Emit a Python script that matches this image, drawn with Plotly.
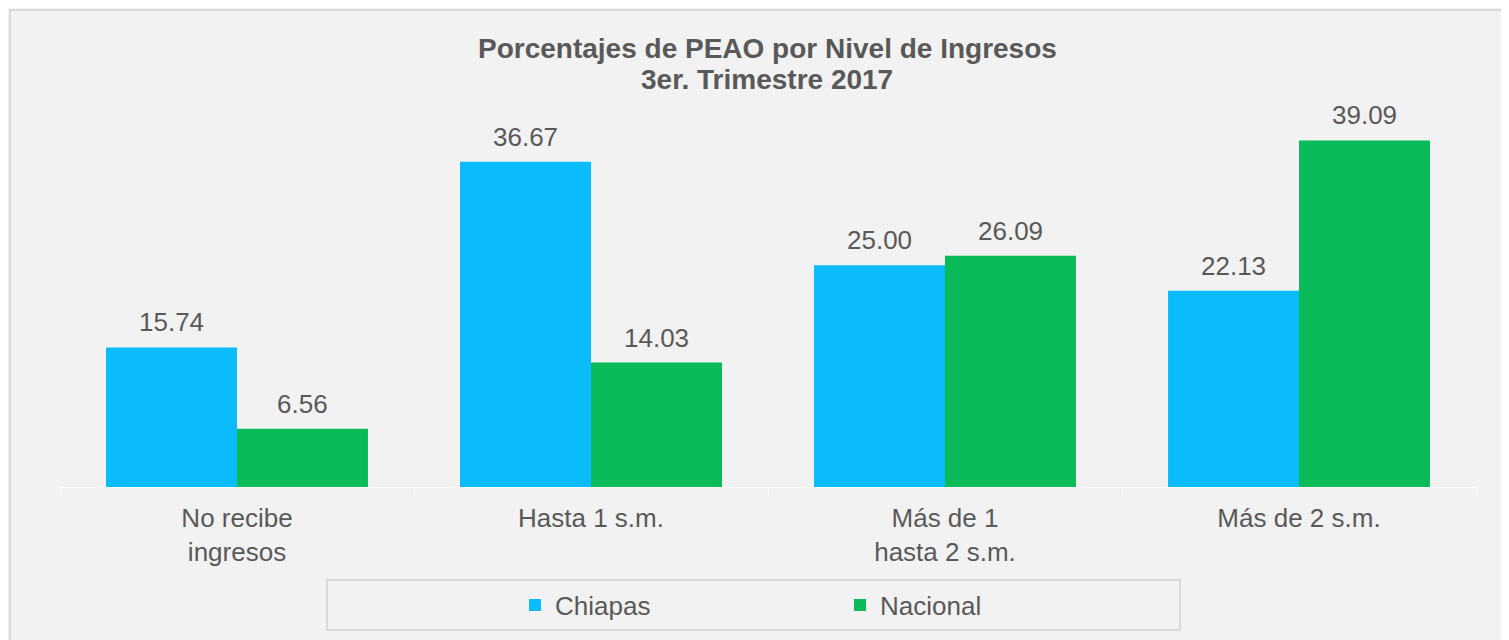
import plotly.graph_objects as go

categories = ["No recibe<br>ingresos", "Hasta 1 s.m.", "Más de 1<br>hasta 2 s.m.", "Más de 2 s.m."]
chiapas = [15.74, 36.67, 25.00, 22.13]
nacional = [6.56, 14.03, 26.09, 39.09]
series_names = ["Chiapas", "Nacional"]
title_lines = ["Porcentajes de PEAO por Nivel de Ingresos", "3er. Trimestre 2017"]

C_CHI = "#0bbcfc"
C_NAC = "#0bbb5a"
TXT = "#595959"
FONT = "Liberation Sans, Arial, sans-serif"
BARGAP = 0.26

# page body has an 8px margin -> work in page coordinates minus 8
SH = 8
PL, PR = 60 - SH, 1476 - SH      # plot left/right (figure px)
PT, PB = 88 - SH, 487 - SH       # plot top/bottom (figure px)
W, H = 1509, 640
PW, PH = PR - PL, PB - PT

def px(xp):
    return (xp - SH - PL) / PW

def py(yp):
    return (PB - (yp - SH)) / PH

fig = go.Figure()
fig.add_trace(go.Bar(x=categories, y=chiapas, name=series_names[0], marker=dict(color=C_CHI, line=dict(width=0))))
fig.add_trace(go.Bar(x=categories, y=nacional, name=series_names[1], marker=dict(color=C_NAC, line=dict(width=0))))

off = (1 - BARGAP) / 4
annotations = []
for i in range(len(categories)):
    for vals, sgn in ((chiapas, -1), (nacional, 1)):
        annotations.append(dict(
            x=i + sgn * off, y=vals[i], xref="x", yref="y",
            text=f"{vals[i]:.2f}", showarrow=False,
            yanchor="middle", yshift=25,
            font=dict(family=FONT, size=26, color=TXT)))

for line, yc in zip(title_lines, (48, 79)):
    annotations.append(dict(
        x=px(767), y=py(yc), xref="paper", yref="paper",
        xanchor="center", yanchor="middle", showarrow=False,
        text="<b>" + line + "</b>",
        font=dict(family=FONT, size=28, color=TXT)))

fig.update_layout(
    width=W, height=H,
    margin=dict(l=PL, r=W - PR, t=PT, b=H - PB),
    paper_bgcolor="#f2f2f2", plot_bgcolor="#f2f2f2",
    barmode="group", bargap=BARGAP, bargroupgap=0,
    font=dict(family=FONT, color=TXT),
    xaxis=dict(type="category", showgrid=False, showline=True, linecolor="#fafafa", linewidth=1,
               ticks="outside", tickson="boundaries", ticklen=7, tickcolor="#fafafa",
               tickfont=dict(family=FONT, size=26, color=TXT), ticklabelstandoff=8,
               fixedrange=True),
    yaxis=dict(range=[0, 45], visible=False, showgrid=False, zeroline=False, fixedrange=True),
    showlegend=True,
    legend=dict(orientation="h", x=px(515), xanchor="left",
                y=py(605), yanchor="middle",
                font=dict(family=FONT, size=26, color=TXT),
                bgcolor="rgba(0,0,0,0)", borderwidth=0,
                entrywidthmode="pixels", entrywidth=280, itemclick=False, itemdoubleclick=False),
    annotations=annotations,
    shapes=[
        dict(type="rect", xref="paper", yref="paper",
             x0=px(327), x1=px(1180), y0=py(630), y1=py(580),
             line=dict(color="#d9d9d9", width=2), fillcolor="rgba(0,0,0,0)"),
        dict(type="rect", xref="paper", yref="paper",
             x0=px(10), x1=1.2, y0=-1.0, y1=py(10),
             line=dict(color="#d9d9d9", width=2), fillcolor="rgba(0,0,0,0)"),
    ],
)

fig.write_html("out.html")
